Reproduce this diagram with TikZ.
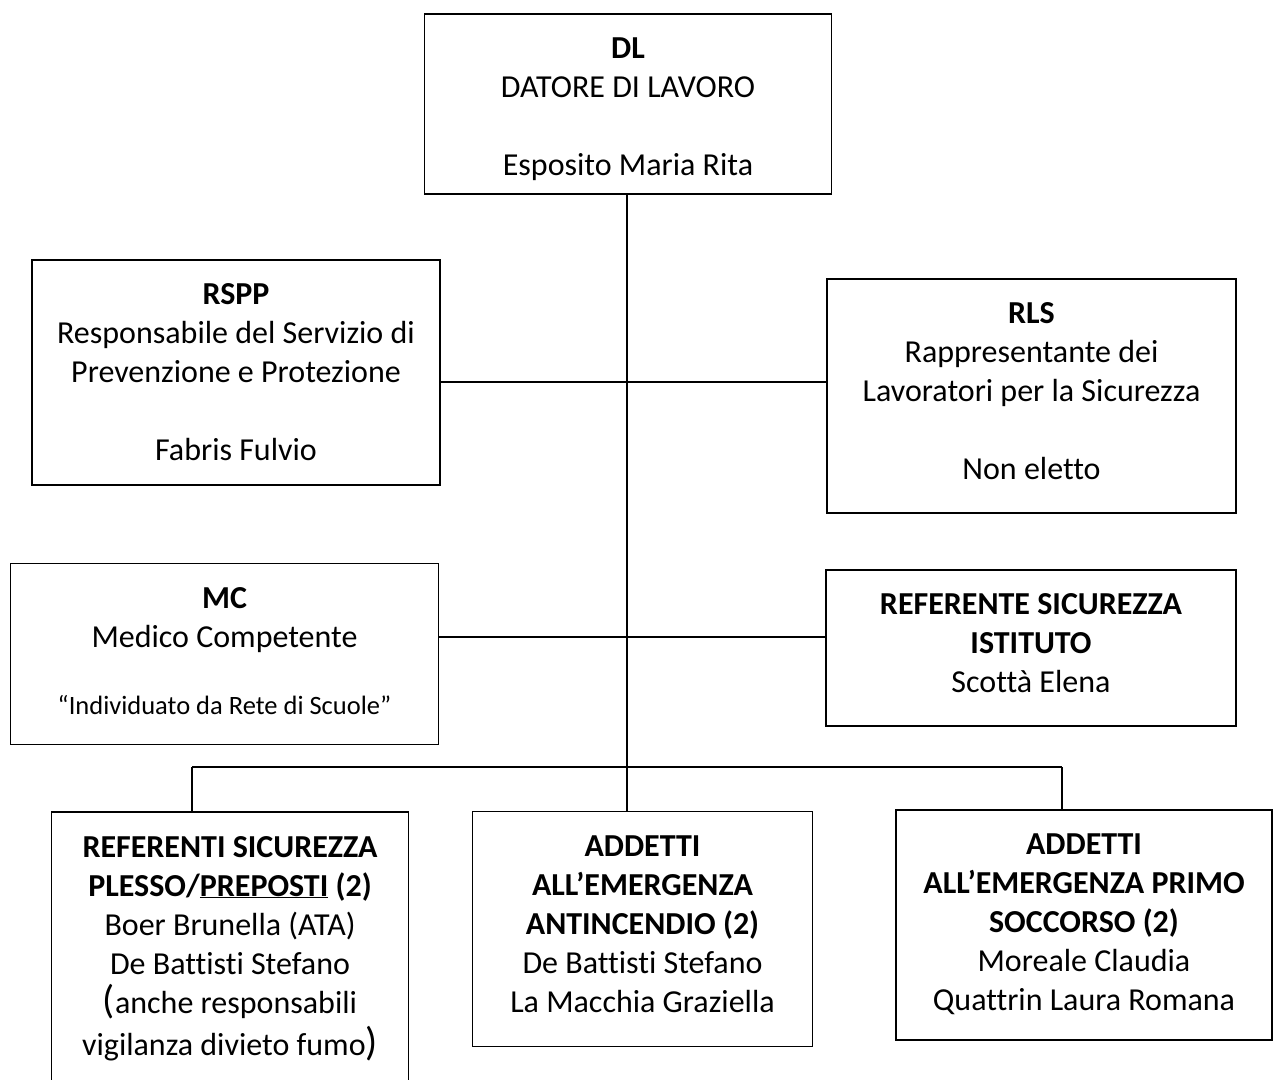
\documentclass[tikz,border=0pt]{standalone}
\usepackage{fontspec}
\setmainfont{Carlito}[Ligatures=NoCommon]
\newcommand{\cella}[3]{\parbox[c][#2pt][t]{#1pt}{\centering\vspace*{24pt}#3}}

\begin{document}
\begin{tikzpicture}[x=1pt,y=-1pt,
    orgbox/.style={draw, line width=1.8pt, inner sep=0pt, font=\fontsize{32}{39}\selectfont},
    link/.style={line width=1.8pt}]
  \clip (0,0) rectangle (1273,1079);
  %datore di lavoro
    \node[orgbox] (dl) at (628,104) {\cella{407}{180}{\textbf{DL}\\DATORE DI LAVORO\\[39pt]Esposito Maria Rita}};
  %rspp e rls
    \node[orgbox] (rspp) at (236,372.5) {\cella{408}{225}{\textbf{RSPP}\\Responsabile del Servizio di\\Prevenzione e Protezione\\[39pt]Fabris Fulvio}};
    \node[orgbox] (rls) at (1031.5,396) {\cella{409}{234}{\textbf{RLS}\\Rappresentante dei\\Lavoratori per la Sicurezza\\[39pt]Non eletto}};
  %mc e referente
    \node[orgbox] (mc) at (224.5,654) {\cella{428}{181}{\textbf{MC}\\Medico Competente\\[28pt]{\fontsize{26.5}{39}\selectfont “Individuato da Rete di Scuole”}}};
    \node[orgbox] (refist) at (1031,648) {\cella{410}{156}{\textbf{REFERENTE SICUREZZA}\\\textbf{ISTITUTO}\\Scottà Elena}};
  %addetti
    \node[orgbox] (refpl) at (230,962) {\cella{357}{300}{\textbf{REFERENTI SICUREZZA}\\\textbf{PLESSO/\underline{PREPOSTI} (2)}\\Boer Brunella (ATA)\\De Battisti Stefano\\{\fontsize{40}{42}\selectfont(}anche responsabili\\[3pt]vigilanza divieto fumo{\fontsize{40}{42}\selectfont)}}};
    \node[orgbox] (antinc) at (642.5,929) {\cella{340}{235}{\textbf{ADDETTI}\\\textbf{ALL’EMERGENZA}\\\textbf{ANTINCENDIO (2)}\\De Battisti Stefano\\La Macchia Graziella}};
    \node[orgbox] (primo) at (1084,925) {\cella{376}{230}{\textbf{ADDETTI}\\\textbf{ALL’EMERGENZA PRIMO}\\\textbf{SOCCORSO (2)}\\Moreale Claudia\\Quattrin Laura Romana}};
  %linee
    \coordinate (j1) at (627,382);
    \coordinate (j2) at (627,637);
    \coordinate (b1) at (192,767);
    \coordinate (b2) at (627,767);
    \coordinate (b3) at (1062,767);
    \draw[link] (dl.south -| b2) -- (b2);
    \draw[link] (rspp.east |- j1) -- (rls.west |- j1);
    \draw[link] (mc.east |- j2) -- (refist.west |- j2);
    \draw[link] (b1) -- (b3);
    \draw[link] (b1) -- (b1 |- refpl.north);
    \draw[link] (b2) -- (b2 |- antinc.north);
    \draw[link] (b3) -- (b3 |- primo.north);
\end{tikzpicture}
\end{document}
